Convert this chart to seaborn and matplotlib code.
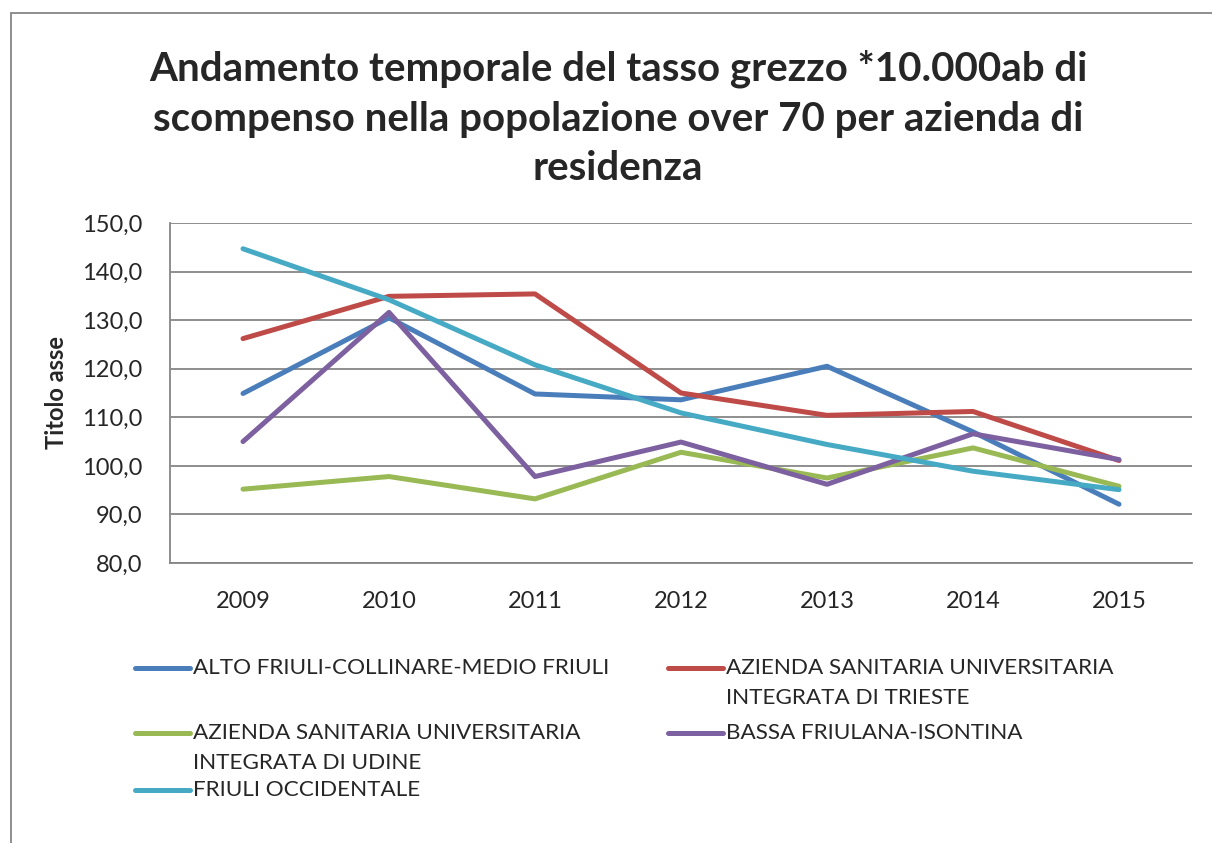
import numpy as np
import pandas as pd
import matplotlib
matplotlib.use("Agg")
import matplotlib.pyplot as plt
import seaborn as sns
from matplotlib.lines import Line2D
from matplotlib.patches import Rectangle

# ── Data ──────────────────────────────────────────────────────────────
years = [2009, 2010, 2011, 2012, 2013, 2014, 2015]

alto_friuli   = [114.9, 130.5, 114.8, 113.6, 120.5, 107.0, 92.1]
asui_trieste  = [126.2, 134.9, 135.4, 115.0, 110.4, 111.2, 101.1]
asui_udine    = [95.2, 97.8, 93.2, 102.8, 97.5, 103.7, 95.8]
bassa_friul   = [105.0, 131.6, 97.8, 104.9, 96.2, 106.6, 101.3]
friuli_occ    = [144.7, 134.2, 120.8, 110.9, 104.4, 98.9, 95.1]

series_names = [
    "ALTO FRIULI-COLLINARE-MEDIO FRIULI",
    "AZIENDA SANITARIA UNIVERSITARIA\nINTEGRATA DI TRIESTE",
    "AZIENDA SANITARIA UNIVERSITARIA\nINTEGRATA DI UDINE",
    "BASSA FRIULANA-ISONTINA",
    "FRIULI OCCIDENTALE",
]
series_values = [alto_friuli, asui_trieste, asui_udine, bassa_friul, friuli_occ]
colors = ["#4A7EBB", "#BE4B48", "#98B954", "#7D60A0", "#46AAC5"]

title = ("Andamento temporale del tasso grezzo *10.000ab di\n"
         "scompenso nella popolazione over 70 per azienda di\n"
         "residenza")
y_ticks = [80, 90, 100, 110, 120, 130, 140, 150]

df = pd.DataFrame({
    "anno": np.tile(years, len(series_names)),
    "valore": np.concatenate(series_values),
    "azienda": np.repeat(series_names, len(years)),
})

# ── Plot ──────────────────────────────────────────────────────────────
sns.set_style("white")
plt.rcParams["font.family"] = ["Lato", "DejaVu Sans"]

W, H = 1212, 843
fig = plt.figure(figsize=(W / 100, H / 100), dpi=100)
ax = fig.add_axes([170 / W, 1 - 563 / H, (1192 - 170) / W, (563 - 223) / H])

sns.lineplot(data=df, x="anno", y="valore", hue="azienda",
             hue_order=series_names, palette=colors, linewidth=3.6,
             legend=False, ax=ax)

ax.set_xlim(years[0] - 0.5, years[-1] + 0.5)
ax.set_ylim(80, 150)
ax.set_xticks(years)
ax.set_xticklabels([str(y) for y in years], fontsize=17)
ax.set_yticks(y_ticks)
ax.set_yticklabels([f"{v:.1f}".replace(".", ",") for v in y_ticks], fontsize=17)
ax.tick_params(axis="both", length=0)
ax.tick_params(axis="y", pad=20)
ax.tick_params(axis="x", pad=20)
ax.grid(axis="y", color="#868686", linewidth=1.3)
ax.set_axisbelow(True)
for side in ["top", "right"]:
    ax.spines[side].set_visible(False)
for side in ["left", "bottom"]:
    ax.spines[side].set_color("#868686")
    ax.spines[side].set_linewidth(1.3)
ax.set_xlabel("")
ax.set_ylabel("Titolo asse", fontsize=17, fontweight="bold", labelpad=10)

fig.text(0.51, 1 - 50 / H, title, ha="center", va="top", fontsize=29,
         fontweight="bold", linespacing=1.4)

# outer chart border (cut off at right and bottom like the source)
fig.add_artist(Rectangle((11 / W, -0.1), 1.2, 1 - 13 / H + 0.1,
                         transform=fig.transFigure, fill=False,
                         edgecolor="#868686", linewidth=1.3))

# ── Legend (row-major, Excel style) ───────────────────────────────────
col_x = [135, 668]
row_y = [668, 733, 790]
for i, (name, c) in enumerate(zip(series_names, colors)):
    r, k = divmod(i, 2)
    x0, y0 = col_x[k], row_y[r]
    fig.add_artist(Line2D([x0 / W, (x0 + 55) / W], [1 - y0 / H] * 2,
                          color=c, linewidth=3.6, solid_capstyle="round",
                          transform=fig.transFigure))
    fig.text((x0 + 58) / W, 1 - (y0 - 10) / H, name, ha="left", va="top",
             fontsize=16.2, linespacing=1.6)

fig.savefig("out.png", dpi=100)
